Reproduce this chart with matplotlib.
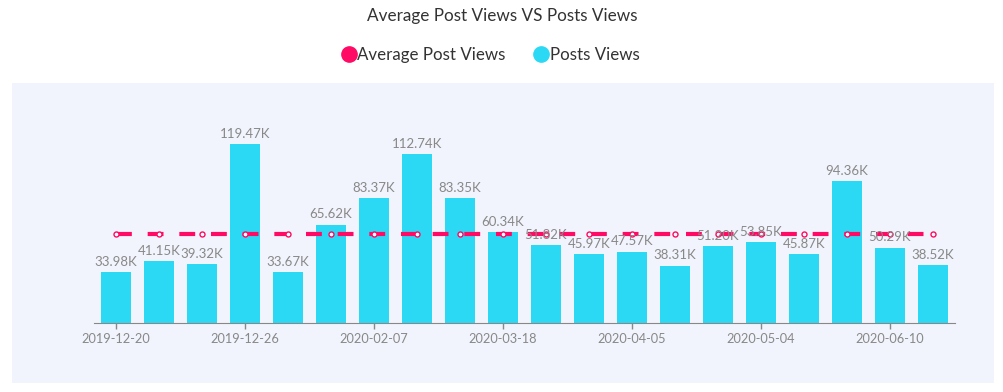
import matplotlib.pyplot as plt
from matplotlib.lines import Line2D
from matplotlib.patches import Rectangle
import numpy as np

plt.rcParams['font.family'] = ['Lato', 'DejaVu Sans']

# data (thousands of views)
dates = ['2019-12-20', '2019-12-21', '2019-12-23', '2019-12-26', '2020-01-10',
         '2020-01-22', '2020-02-07', '2020-02-19', '2020-03-02', '2020-03-18',
         '2020-03-24', '2020-03-30', '2020-04-05', '2020-04-14', '2020-04-25',
         '2020-05-04', '2020-05-15', '2020-05-28', '2020-06-10', '2020-06-20']
post_views = [33.98, 41.15, 39.32, 119.47, 33.67, 65.62, 83.37, 112.74, 83.35, 60.34,
              51.82, 45.97, 47.57, 38.31, 51.20, 53.85, 45.87, 94.36, 50.29, 38.52]
avg_views = [59.54, 59.54, 59.54, 59.54, 59.54, 59.54, 59.54, 59.54, 59.54, 59.54,
             59.54, 59.54, 59.54, 59.54, 59.54, 59.54, 59.54, 59.54, 59.54, 59.54]
tick_idx = [0, 3, 6, 9, 12, 15, 18]

bar_color = '#2cd9f4'
avg_color = '#ff0a64'
grey = '#888888'

W, H = 1004, 392
fig = plt.figure(figsize=(W / 100, H / 100), dpi=100)

# light panel behind the plot
fig.patches.append(Rectangle((12 / W, (H - 383) / H), (994 - 12) / W, (383 - 83) / H,
                             transform=fig.transFigure, facecolor='#f1f4fc',
                             edgecolor='none', zorder=-10))

ax = fig.add_axes([94.5 / W, (H - 323) / H, (954.5 - 94.5) / W, (323 - 83) / H])
ax.patch.set_alpha(0)

x = np.arange(len(post_views))
bars = ax.bar(x, post_views, width=0.7, color=bar_color, zorder=2)
for xi, v in zip(x, post_views):
    ax.annotate(f'{v:.2f}K', (xi, v), xytext=(0, 3), textcoords='offset points',
                ha='center', va='bottom', fontsize=9.5, color=grey, zorder=4)

ax.plot(x, avg_views, color=avg_color, lw=3, dashes=(3.8, 3.8), zorder=3,
        marker='o', markersize=3.6, markerfacecolor='white',
        markeredgecolor=avg_color, markeredgewidth=1)

ax.set_xlim(-0.5, len(post_views) - 0.5)
ax.set_ylim(0, 160)
ax.set_yticks([])
ax.set_xticks(tick_idx)
ax.set_xticklabels([dates[i] for i in tick_idx])
ax.tick_params(axis='x', colors=grey, labelsize=9.2, length=4, width=1, pad=3)
for s in ['top', 'right', 'left']:
    ax.spines[s].set_visible(False)
ax.spines['bottom'].set_color(grey)

fig.text(0.5, 1 - 16 / H, 'Average Post Views VS Posts Views', ha='center', va='center',
         fontsize=12.3, color='#333333')

handles = [Line2D([], [], ls='none', marker='o', markersize=11, color=avg_color),
           Line2D([], [], ls='none', marker='o', markersize=11, color=bar_color)]
fig.legend(handles, ['Average Post Views', 'Posts Views'], loc='center',
           bbox_to_anchor=(490 / W, 1 - 55 / H), ncol=2, frameon=False,
           handletextpad=0.0, columnspacing=1.6, handlelength=1.0,
           prop={'size': 12.2}, labelcolor='#333333')

fig.savefig('out.png', dpi=100)
